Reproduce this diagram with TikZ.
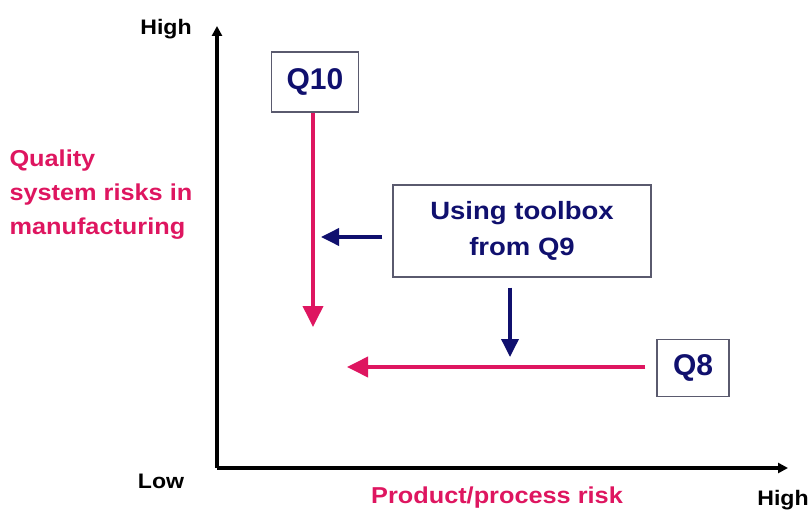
\documentclass[tikz,border=0pt]{standalone}
\usepackage{fontspec}
\setmainfont[FakeStretch=1.1]{Liberation Sans}
\newfontfamily\plainsans{Liberation Sans}
\usetikzlibrary{arrows.meta}
\definecolor{riskpink}{RGB}{222,22,96}
\definecolor{qnavy}{RGB}{16,16,110}
\definecolor{boxgray}{RGB}{90,90,110}
\tikzstyle{axis}=[draw=black, line width=3.8pt, -{Triangle[length=10pt, width=10pt]}]
\tikzstyle{qbox}=[draw=boxgray, line width=1.4pt, text=qnavy, font=\bfseries, inner sep=0, align=center]
\tikzstyle{pinkarrow}=[draw=riskpink, line width=3.8pt, -{Triangle[length=21pt, width=20pt]}]
\tikzstyle{navyarrow}=[draw=qnavy, line width=3.6pt, -{Triangle[length=18pt, width=17pt]}]
\tikzstyle{axislabel}=[font=\bfseries\fontsize{21}{24}\selectfont, text=black]
\tikzstyle{risklabel}=[font=\bfseries\fontsize{23}{34}\selectfont, text=riskpink]

\begin{document}
\begin{tikzpicture}[x=1pt, y=-1pt]
        \useasboundingbox (0, 0) rectangle (810, 510);
        % axes
        \coordinate (O) at (217, 468);
        \coordinate (Ytop) at (217, 26);
        \coordinate (Xend) at (788, 468);
        \draw[axis] (O) -- (Ytop);
        \draw[axis] (O) -- (Xend);
        \node[axislabel] (yhigh) at (166, 29) {High};
        \node[axislabel] (xlow) at (161, 481) {Low};
        \node[axislabel] (xhigh) at (783, 500) {High};
        \node[risklabel] (xlabel) at (497, 498) {Product/process risk};
        \node[risklabel, align=left, anchor=west] (ylabel) at (6, 195) {Quality\\system risks in\\manufacturing};
        % guidelines
        \node[qbox, minimum width=87, minimum height=60, font=\plainsans\bfseries\fontsize{30}{32}\selectfont] (Q10) at (315, 82) {Q10};
        \node[qbox, minimum width=258, minimum height=92, font=\bfseries\fontsize{25}{36}\selectfont] (Q9) at (522, 231) {Using toolbox\\from Q9};
        \node[qbox, minimum width=72, minimum height=57, font=\plainsans\bfseries\fontsize{30}{32}\selectfont] (Q8) at (693, 368) {Q8};
        \coordinate (Q10end) at (313, 327);
        \coordinate (Q8end) at (347, 367);
        \coordinate (Q9left) at (321, 237);
        \coordinate (Q9down) at (510, 357);
        \draw[pinkarrow] (Q10.south -| Q10end) -- (Q10end);
        \draw[pinkarrow] ([xshift=-11pt]Q8.west |- Q8end) -- (Q8end);
        \draw[navyarrow] ([xshift=-10pt]Q9.west |- Q9left) -- (Q9left);
        \draw[navyarrow] ([yshift=-10pt]Q9.south -| Q9down) -- (Q9down);
    \end{tikzpicture}
\end{document}
